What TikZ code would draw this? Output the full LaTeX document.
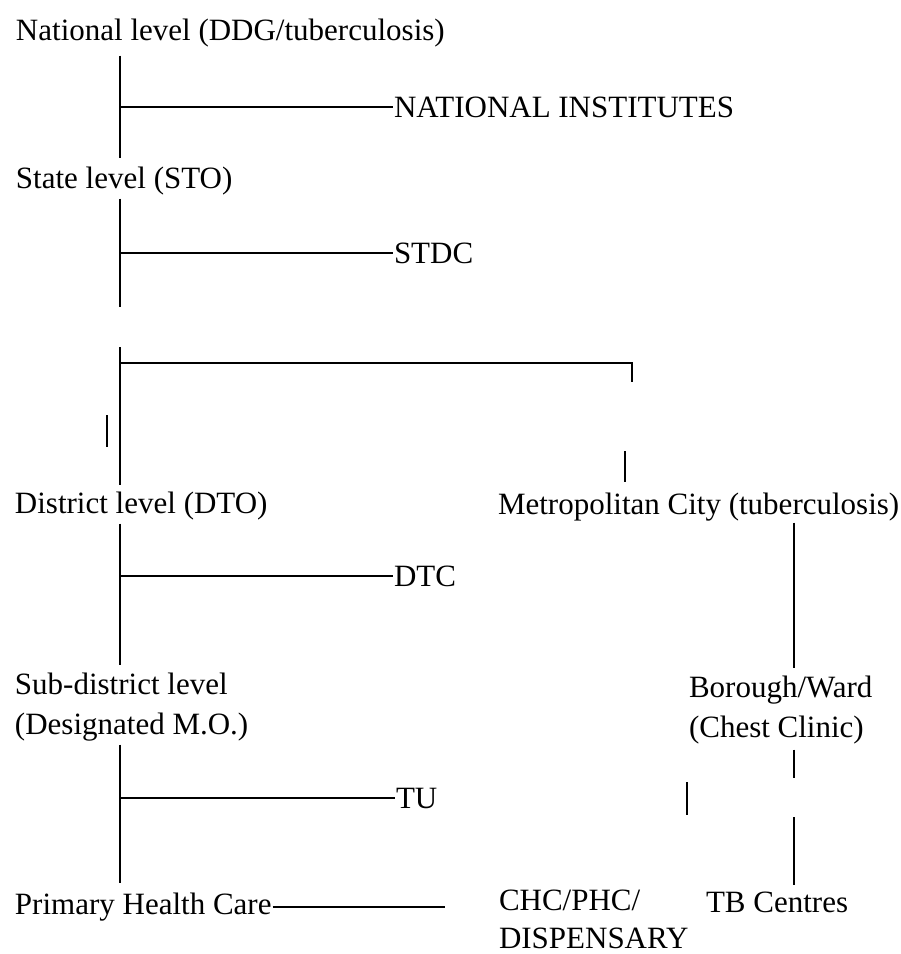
\documentclass[tikz,border=0pt]{standalone}
\usepackage{fontspec}
\setmainfont{Liberation Serif}

\begin{document}
\begin{tikzpicture}[x=1pt, y=-1pt, line width=2pt,
    font=\fontsize{31}{40}\selectfont]
    \tikzstyle{lbl}=[anchor=base west, inner sep=0pt, align=left]
    \useasboundingbox (0,0) rectangle (901,954);

    \node[lbl] (nat) at (15,40) {National level (DDG/tuberculosis)};
    \node[lbl] (ni) at (393,117) {NATIONAL INSTITUTES};
    \node[lbl] (sto) at (15,188) {State level (STO)};
    \node[lbl] (stdc) at (393,263) {STDC};
    \node[lbl] (dto) at (14,513) {District level (DTO)};
    \node[lbl] (metro) at (497,514) {Metropolitan City (tuberculosis)};
    \node[lbl] (dtc) at (393,586) {DTC};
    \node[lbl] (sub) at (14,734) {Sub-district level\\(Designated M.O.)};
    \node[lbl] (bor) at (688,737) {Borough/Ward\\(Chest Clinic)};
    \node[lbl] (tu) at (395,808) {TU};
    \node[lbl] (phc) at (14,914) {Primary Health Care};
    \node[lbl] (chc) at (498,948) {CHC/PHC/\\[-2pt]DISPENSARY};
    \node[lbl] (tb) at (705,912) {TB Centres};

    \coordinate (trunk) at (120,0);
    \coordinate (city) at (794,0);
    \coordinate (stoend) at (120,307);
    \coordinate (fork) at (120,347);
    \coordinate (split) at (632,363);
    \coordinate (splitend) at (632,382);
    \coordinate (jog) at (107,415);
    \coordinate (jogend) at (107,447);
    \coordinate (metrotop) at (625,451);
    \coordinate (phcend) at (445,0);
    \coordinate (borend) at (794,778);
    \coordinate (mid) at (687,782);
    \coordinate (midend) at (687,815);
    \coordinate (tbtop) at (794,817);

    \draw[shorten <=8pt, shorten >=7pt] (nat.south -| trunk) -- (sto.north -| trunk);
    \draw (trunk |- ni.west) -- (ni.west);
    \draw[shorten <=3pt] (sto.south -| trunk) -- (stoend);
    \draw (trunk |- stdc.west) -- (stdc.west);
    \draw[shorten >=5pt] (fork) -- (dto.north -| trunk);
    \draw (trunk |- split) -- (split) -- (splitend);
    \draw (jog) -- (jogend);
    \draw[shorten >=9pt] (metrotop) -- (metro.north -| metrotop);
    \draw[shorten <=3pt, shorten >=7pt] (dto.south -| trunk) -- (sub.north -| trunk);
    \draw (trunk |- dtc.west) -- (dtc.west);
    \draw[shorten <=3pt, shorten >=9pt] (sub.south -| trunk) -- (phc.north -| trunk);
    \draw (trunk |- tu.west) -- (tu.west);
    \draw (phc.east) -- (phc.east -| phcend);
    \draw[shorten <=1pt, shorten >=7pt] (metro.south -| city) -- (bor.north -| city);
    \draw[shorten <=5pt] (bor.south -| city) -- (borend);
    \draw (mid) -- (midend);
    \draw[shorten >=5pt] (tbtop) -- (tb.north -| city);
  \end{tikzpicture}
\end{document}
